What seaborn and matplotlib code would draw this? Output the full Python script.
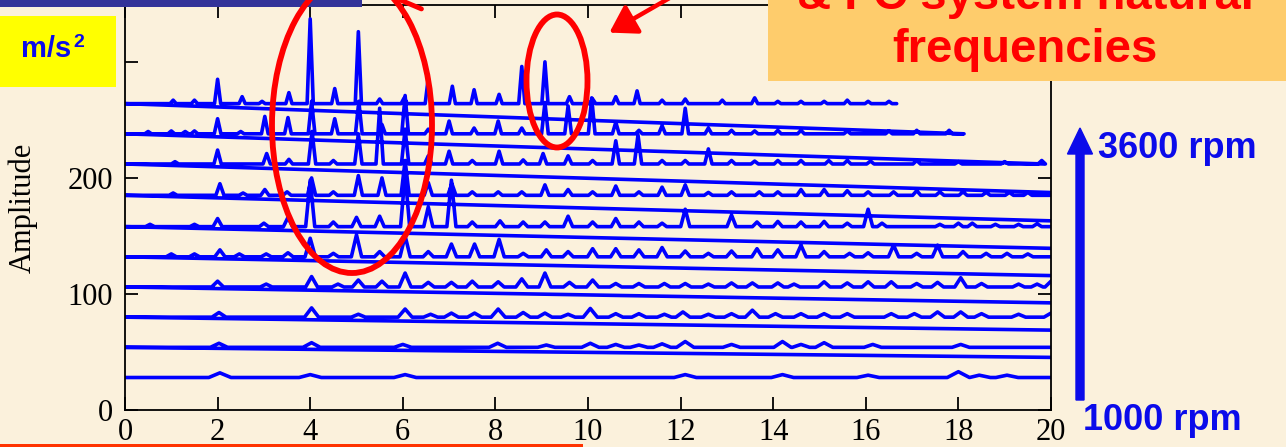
import numpy as np
import pandas as pd
import matplotlib
matplotlib.use("Agg")
import matplotlib.pyplot as plt
import matplotlib.transforms as mtransforms
from matplotlib.patches import Ellipse, Rectangle, FancyArrow, FancyArrowPatch
import seaborn as sns

# Run-up waterfall: order spectra of acceleration at ten shaft speeds
rpm_levels = [1000, 1289, 1578, 1867, 2156, 2444, 2733, 3022, 3311, 3600]
baseline_offsets = [28, 54, 80, 106, 132, 158, 185, 212, 238, 264]
max_freq_hz = 1000          # analysis bandwidth of every spectrum
peak_halfwidth_hz = 4       # spectral line half-width

# (order, amplitude above the trace baseline)
spec_1000 = [(2.05, 4), (4.0, 2.5), (6.05, 2.5), (12.1, 2.5), (14.2, 2.5), (16.05, 2),
             (18.0, 5), (18.45, 2), (19.05, 2)]
spec_1289 = [(2.03, 3.5), (4.03, 4), (6.0, 2.5), (8.05, 3.5), (9.1, 2), (10.05, 3.5),
             (10.6, 2.5), (11.1, 2), (11.6, 3), (12.1, 5), (13.1, 2.5), (14.2, 5),
             (14.6, 2.5), (15.1, 4), (16.15, 2.5), (18.05, 2.5)]
spec_1578 = [(2.03, 4), (4.03, 8), (5.04, 2.5), (6.05, 7), (6.6, 2.5), (7.05, 3.5),
             (7.55, 3.5), (8.06, 7), (8.6, 4), (9.07, 3.5), (9.57, 2.5), (10.05, 7.5),
             (10.6, 3), (11.1, 3), (11.65, 2.5), (12.05, 4.5), (12.6, 2.5), (13.1, 3),
             (13.55, 6), (14.05, 3), (14.6, 3), (15.1, 3), (15.6, 3), (16.55, 3),
             (17.05, 3), (17.55, 4.5), (18.05, 4.5), (18.5, 3), (19.3, 2.5), (20.0, 3.5)]
spec_1867 = [(2.0, 5), (3.05, 2.5), (4.03, 9), (4.6, 2.5), (5.04, 6), (5.55, 5),
             (6.05, 12), (6.55, 4), (7.05, 4), (7.5, 5), (8.06, 4.5), (8.57, 7),
             (9.07, 12), (9.6, 4), (10.1, 6), (10.6, 3), (11.1, 3), (11.65, 3),
             (12.1, 3), (12.6, 2.5), (13.1, 3.5), (13.55, 3.5), (14.1, 3.5), (14.45, 2.5),
             (15.1, 4.5), (15.6, 3.5), (16.05, 4.5), (16.55, 4.5), (17.1, 3), (17.55, 4),
             (18.05, 8), (18.5, 3), (19.3, 2.5), (19.7, 2.5), (20.0, 5)]
spec_2156 = [(1.0, 2.5), (1.5, 2.5), (2.05, 6), (2.47, 2.5), (3.05, 2.5), (3.52, 3.5),
             (4.0, 16), (4.5, 3), (5.0, 19), (5.5, 4.5), (6.05, 18), (6.55, 4.5),
             (7.05, 11), (7.55, 11), (8.08, 15), (8.6, 3), (9.1, 6), (9.57, 4.5),
             (10.1, 7), (10.6, 7), (11.1, 6), (11.6, 8), (12.1, 5), (12.6, 3),
             (13.1, 5), (13.65, 7), (14.1, 6), (14.6, 10), (15.1, 4.5), (15.65, 3),
             (16.05, 3.5), (16.6, 10), (17.1, 3), (17.55, 10), (18.1, 4.5), (18.6, 3),
             (19.05, 3), (19.5, 2.5)]
spec_2444 = [(0.54, 2), (1.5, 2), (2.0, 7), (3.0, 3), (3.52, 8), (4.0, 40), (4.5, 4),
             (5.0, 8), (5.5, 9), (6.05, 45), (6.55, 17), (7.05, 40), (7.5, 4),
             (8.1, 5), (8.6, 4), (9.07, 4), (9.57, 9), (10.1, 4), (10.6, 7), (11.1, 4),
             (11.6, 3), (12.1, 15), (13.1, 10), (13.65, 4), (14.1, 4.5), (14.6, 4),
             (15.1, 4.5), (15.6, 3), (16.05, 15), (16.35, 3), (17.6, 2), (18.0, 3),
             (18.3, 3), (18.8, 2), (19.3, 2), (19.7, 2.5)]
spec_2733 = [(1.04, 2), (2.05, 10), (2.55, 2), (3.02, 5), (3.5, 3), (4.03, 15), (4.5, 3),
             (5.04, 17), (5.55, 15), (6.05, 30), (6.55, 11), (7.06, 10), (7.5, 3),
             (8.06, 3), (8.57, 3), (9.07, 9), (9.57, 5), (10.1, 3), (10.6, 8), (11.1, 3),
             (11.6, 7), (12.1, 9), (12.6, 2.5), (13.1, 3), (13.7, 3), (14.1, 3),
             (14.6, 5), (15.1, 5), (15.6, 4), (16.05, 3), (16.6, 3), (17.1, 4),
             (17.6, 3), (18.1, 3), (18.6, 2.5), (19.1, 2.5), (19.5, 2.5)]
spec_3022 = [(1.08, 2), (2.0, 12), (3.06, 9), (3.54, 4), (4.04, 28), (4.5, 3), (5.04, 26),
             (5.5, 48), (6.05, 30), (6.55, 7), (7.0, 11), (7.5, 3), (8.08, 11),
             (8.6, 3.5), (9.03, 9), (9.57, 7), (10.1, 3), (10.6, 20), (11.08, 25),
             (11.6, 3), (12.1, 3), (12.6, 13), (13.1, 3), (13.6, 2.5), (14.1, 3),
             (14.6, 3), (15.2, 3), (15.6, 3), (16.1, 2.5), (17.1, 3), (18.0, 2),
             (19.0, 2), (19.8, 3)]
spec_3311 = [(0.5, 2), (1.0, 2.5), (1.3, 2), (1.5, 2.5), (2.0, 13), (2.5, 2), (3.02, 15),
             (3.52, 14), (4.03, 28), (4.53, 13), (5.05, 28), (5.55, 8), (6.05, 33),
             (6.55, 4), (7.0, 11), (7.54, 5), (8.06, 11), (8.57, 5), (9.07, 27),
             (9.57, 24), (10.08, 31), (10.6, 10), (11.1, 3), (11.6, 7), (12.1, 22),
             (12.6, 5), (13.1, 3), (13.6, 2.5), (14.1, 3), (14.6, 3), (15.6, 2.5),
             (16.5, 2.5), (17.1, 3), (17.8, 3)]
spec_3600 = [(1.04, 3), (1.5, 3), (2.0, 21), (2.53, 6), (2.96, 2), (3.54, 9.5), (4.0, 73),
             (4.53, 13), (5.04, 62), (5.5, 4), (6.03, 5), (6.55, 22), (7.07, 15),
             (7.54, 12), (8.08, 8), (8.57, 32), (9.07, 36), (9.6, 6), (10.1, 4),
             (10.6, 6), (11.06, 11), (11.6, 3), (12.1, 4), (12.9, 3), (13.6, 5),
             (14.1, 2), (14.6, 2), (15.1, 2), (15.6, 3), (16.05, 2), (16.5, 2)]
spectra = [spec_1000, spec_1289, spec_1578, spec_1867, spec_2156,
           spec_2444, spec_2733, spec_3022, spec_3311, spec_3600]

x_ticks = list(range(0, 21, 2))
y_ticks = [0, 100, 200, 300]

# One continuous polyline through all spectra, low speed first
rows = []
for rpm, off, peaks in zip(rpm_levels, baseline_offsets, spectra):
    last_order = 60.0 * max_freq_hz / rpm
    hw = 60.0 * peak_halfwidth_hz / rpm
    rows.append((0.0, off))
    prev = 0.0
    for order, height in sorted(peaks):
        left = max(order - hw, prev)
        rows += [(left, off), (order, off + height), (order + hw, off)]
        prev = order + hw
    rows.append((last_order, off))
waterfall = pd.DataFrame(rows, columns=["order", "amplitude"])

sns.set_style("ticks")
plt.rcParams["font.family"] = ["Liberation Serif", "DejaVu Serif"]

W, H = 1286, 447
bg = "#FBF1DC"
fig = plt.figure(figsize=(W / 100, H / 100), dpi=100, facecolor=bg)
ax = fig.add_axes([125 / W, 37 / H, 926 / W, 405 / H])
ax.set_facecolor("none")

sns.lineplot(data=waterfall, x="order", y="amplitude", sort=False, estimator=None,
             errorbar=None, color="#0000FF", linewidth=2.6, ax=ax)

ax.set_xlim(0, 20)
ax.set_ylim(0, 349)
ax.set_xticks(x_ticks)
ax.set_yticks(y_ticks)
ax.set_xlabel("")
ax.set_ylabel("Amplitude", fontsize=22, color="black")
ax.yaxis.set_label_coords(-87 / 926, 0.5)
ax.tick_params(direction="in", length=9.5, width=1.3, top=True, right=True,
               labelsize=22, colors="black")
ax.tick_params(axis="x", pad=6.0)
ax.tick_params(axis="y", pad=8.6)
for s in ax.spines.values():
    s.set_visible(True)
    s.set_linewidth(1.3)
    s.set_color("black")

# Slide overlays, positioned in pixels from the top-left corner
px = mtransforms.Affine2D().scale(1 / W, -1 / H).translate(0, 1) + fig.transFigure
sans = ["Liberation Sans", "DejaVu Sans"]
blue = "#0B0BEA"
red = "#FF0000"

fig.add_artist(Rectangle((0, 0), 362, 6.5, facecolor="#333399", edgecolor="none", transform=px))
fig.add_artist(Rectangle((0, 443.5), 583, 3.5, facecolor="#FF3300", edgecolor="none", transform=px))

fig.add_artist(Ellipse((352, 125), 160, 296, fill=False, edgecolor=red, lw=4.2, transform=px))
fig.add_artist(Ellipse((557, 81), 61, 133, fill=False, edgecolor=red, lw=4.2, transform=px))
fig.add_artist(FancyArrowPatch((680, -8), (607, 34), arrowstyle="-|>,head_length=0.4,head_width=0.25",
                               mutation_scale=40, lw=3.2, color=red, transform=px))
fig.add_artist(FancyArrowPatch((398, -1), (424, 10), arrowstyle="-", lw=3.5, color=red, transform=px))

fig.add_artist(Rectangle((768, 0), 518, 81, facecolor="#FECC6C", edgecolor="none", transform=px))
fig.text(1025, 62, "frequencies", transform=px, ha="center", va="baseline",
         fontsize=34, fontweight="bold", color=red, family=sans)
fig.text(1025, 9, "& FC system natural", transform=px, ha="center", va="baseline",
         fontsize=34, fontweight="bold", color=red, family=sans)

fig.add_artist(Rectangle((0, 16), 116, 71, facecolor="#FFFF00", edgecolor="none", transform=px))
fig.text(21, 57, "m/s", transform=px, ha="left", va="baseline",
         fontsize=21, fontweight="bold", color=blue, family=sans)
fig.text(73, 47, "2", transform=px, ha="left", va="baseline",
         fontsize=14, fontweight="bold", color=blue, family=sans)

fig.add_artist(FancyArrow(1080, 400, 0, -272, width=8, head_width=25, head_length=26,
                          length_includes_head=True, color=blue, transform=px))
fig.text(1098, 158, "3600 rpm", transform=px, ha="left", va="baseline",
         fontsize=26, fontweight="bold", color=blue, family=sans)
fig.text(1083, 430, "1000 rpm", transform=px, ha="left", va="baseline",
         fontsize=26, fontweight="bold", color=blue, family=sans)

fig.savefig("out.png", dpi=100, facecolor=bg)
